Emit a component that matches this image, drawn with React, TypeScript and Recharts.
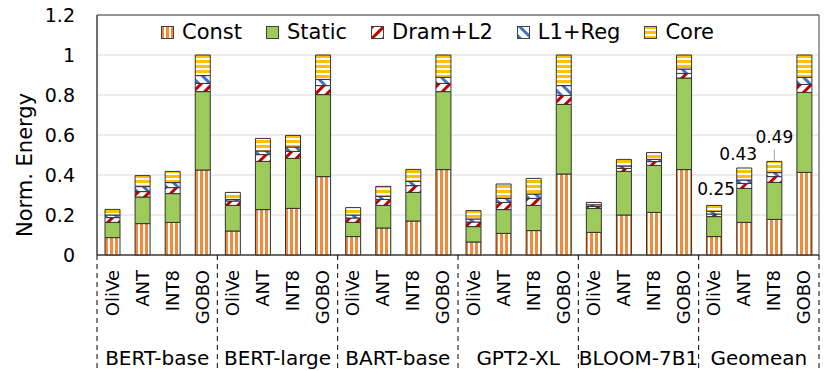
import { Bar, BarChart, CartesianGrid, LabelList, ReferenceArea, XAxis, YAxis } from "recharts";

const FONT = "'DejaVu Sans', Verdana, sans-serif";

const models = ["BERT-base", "BERT-large", "BART-base", "GPT2-XL", "BLOOM-7B1", "Geomean"];
const methods = ["OliVe", "ANT", "INT8", "GOBO"];

// one value per bar, model by model (OliVe, ANT, INT8, GOBO)
const constE = [
  0.087, 0.157, 0.163, 0.425, 0.12, 0.227, 0.233, 0.392, 0.092, 0.135, 0.17, 0.427,
  0.065, 0.108, 0.122, 0.405, 0.113, 0.2, 0.213, 0.427, 0.092, 0.163, 0.178, 0.413,
];
const staticE = [
  0.076, 0.133, 0.144, 0.392, 0.128, 0.241, 0.25, 0.41, 0.071, 0.113, 0.143, 0.39,
  0.077, 0.119, 0.126, 0.348, 0.12, 0.218, 0.235, 0.458, 0.1, 0.17, 0.185, 0.4,
];
const dramE = [
  0.024, 0.027, 0.03, 0.041, 0.022, 0.034, 0.035, 0.045, 0.022, 0.03, 0.034, 0.041,
  0.023, 0.036, 0.035, 0.045, 0.01, 0.015, 0.019, 0.023, 0.013, 0.025, 0.029, 0.04,
];
const l1E = [
  0.013, 0.025, 0.025, 0.039, 0.008, 0.018, 0.022, 0.031, 0.015, 0.015, 0.021, 0.03,
  0.015, 0.02, 0.022, 0.049, 0.008, 0.012, 0.011, 0.022, 0.013, 0.017, 0.02, 0.035,
];
const coreE = [
  0.028, 0.055, 0.056, 0.103, 0.035, 0.063, 0.058, 0.122, 0.037, 0.05, 0.06, 0.112,
  0.042, 0.072, 0.078, 0.153, 0.012, 0.033, 0.034, 0.07, 0.03, 0.06, 0.056, 0.112,
];
const totalLabels = [
  "", "", "", "", "", "", "", "", "", "", "", "",
  "", "", "", "", "", "", "", "", "0.25", "0.43", "0.49", "",
];
const yTicks = [0, 0.2, 0.4, 0.6, 0.8, 1, 1.2];

const data = models.flatMap((model, g) =>
  methods.map((method, m) => {
    const i = g * 4 + m;
    return {
      name: method,
      model,
      constE: constE[i],
      staticE: staticE[i],
      dramE: dramE[i],
      l1E: l1E[i],
      coreE: coreE[i],
      label: totalLabels[i],
    };
  })
);

const series = [
  { key: "constE", name: "Const", fill: "url(#pConst)" },
  { key: "staticE", name: "Static", fill: "#9DCB5B" },
  { key: "dramE", name: "Dram+L2", fill: "url(#pDram)" },
  { key: "l1E", name: "L1+Reg", fill: "url(#pL1)" },
  { key: "coreE", name: "Core", fill: "url(#pCore)" },
];

// nudges for the geomean value labels
const labelShift: Record<string, { dx: number; dy: number; leader?: boolean }> = {
  OliVe: { dx: 2, dy: -10 },
  ANT: { dx: -6, dy: -8 },
  INT8: { dx: 0, dy: -18, leader: true },
};

const Patterns = () => (
  <svg width={0} height={0} style={{ position: "absolute" }}>
    <defs>
      <pattern id="pConst" patternUnits="userSpaceOnUse" width={5} height={5}>
        <rect width={5} height={5} fill="#fff" />
        <rect width={3} height={5} fill="#F28A3C" />
      </pattern>
      <pattern id="pCore" patternUnits="userSpaceOnUse" width={5} height={5}>
        <rect width={5} height={5} fill="#fff" />
        <rect width={5} height={3} fill="#FFC000" />
      </pattern>
      <pattern id="pDram" patternUnits="userSpaceOnUse" width={8} height={8} patternTransform="rotate(45)">
        <rect width={8} height={8} fill="#fff" />
        <rect width={3} height={8} fill="#C00000" />
      </pattern>
      <pattern id="pL1" patternUnits="userSpaceOnUse" width={8} height={8} patternTransform="rotate(-45)">
        <rect width={8} height={8} fill="#fff" />
        <rect width={3} height={8} fill="#4472C4" />
      </pattern>
    </defs>
  </svg>
);

const CategoryTick = (props: any) => {
  const { x, y, payload, index } = props;
  const i = payload?.index ?? index;
  const half = payload?.offset || 15;
  return (
    <g>
      <text
        x={x}
        y={y + 15}
        transform={`rotate(-90, ${x}, ${y + 15})`}
        textAnchor="end"
        dominantBaseline="central"
        fontSize={18}
        fontFamily={FONT}
        fill="#000"
      >
        {payload.value}
      </text>
      {i % 4 === 0 && (
        <line x1={x - half} x2={x - half} y1={y} y2={y + 116} stroke="#000" strokeDasharray="5 4" />
      )}
      {i === data.length - 1 && (
        <line x1={x + half} x2={x + half} y1={y} y2={y + 116} stroke="#000" strokeDasharray="5 4" />
      )}
      {i % 4 === 1 && (
        <text x={x + half} y={y + 110} textAnchor="middle" fontSize={20} fontFamily={FONT} fill="#000">
          {data[i].model}
        </text>
      )}
    </g>
  );
};

const TotalLabel = (props: any) => {
  const { x, y, width, value, index } = props;
  if (!value) return null;
  const s = labelShift[data[index].name] || { dx: 0, dy: -8 };
  const cx = x + width / 2;
  return (
    <g>
      {s.leader && <line x1={cx} x2={cx} y1={y + s.dy + 6} y2={y} stroke="#A6A6A6" />}
      <text x={cx + s.dx} y={y + s.dy} textAnchor="middle" fontSize={17} fontFamily={FONT} fill="#000">
        {value}
      </text>
    </g>
  );
};

const Legend = () => (
  <div
    style={{
      position: "absolute",
      left: 161,
      top: 20,
      display: "flex",
      alignItems: "center",
      fontFamily: FONT,
      fontSize: 21,
      gap: 24,
    }}
  >
    {series.map((s) => (
      <div key={s.key} style={{ display: "flex", alignItems: "center", gap: 8 }}>
        <svg width={13} height={13}>
          <rect x={0.5} y={0.5} width={12} height={12} fill={s.fill} stroke="#404040" />
        </svg>
        <span>{s.name}</span>
      </div>
    ))}
  </div>
);

const EnergyChart = () => {
  return (
    <div style={{ position: "absolute", left: 0, top: 0, width: 830, height: 371, background: "#fff" }}>
      <Patterns />
      <BarChart
        width={830}
        height={371}
        data={data}
        margin={{ top: 15, right: 11, bottom: 0, left: 0 }}
        style={{ fontFamily: FONT }}
      >
        <CartesianGrid vertical={false} stroke="#D9D9D9" />
        <XAxis
          dataKey="name"
          height={116}
          interval={0}
          tickLine={false}
          tickSize={0}
          tickMargin={0}
          axisLine={{ stroke: "#404040" }}
          tick={<CategoryTick />}
        />
        <YAxis
          width={97}
          domain={[0, 1.2]}
          ticks={yTicks}
          tickLine={false}
          tickSize={0}
          tickMargin={22}
          axisLine={{ stroke: "#404040" }}
          tick={{ fontSize: 19, fill: "#000", fontFamily: FONT }}
          label={{
            value: "Norm. Energy",
            angle: -90,
            position: "center",
            dx: -24,
            dy: 30,
            style: { fontSize: 21, fill: "#000", fontFamily: FONT },
          }}
        />
        <ReferenceArea y1={0} y2={1.2} fill="none" stroke="#404040" />
        {series.map((s) => (
          <Bar
            key={s.key}
            dataKey={s.key}
            name={s.name}
            stackId="a"
            barSize={15}
            fill={s.fill}
            stroke="#333"
            strokeWidth={1}
            isAnimationActive={false}
          >
            {s.key === "coreE" && <LabelList dataKey="label" content={<TotalLabel />} />}
          </Bar>
        ))}
      </BarChart>
      <Legend />
    </div>
  );
};

export default function App() {
  return <EnergyChart />;
}
